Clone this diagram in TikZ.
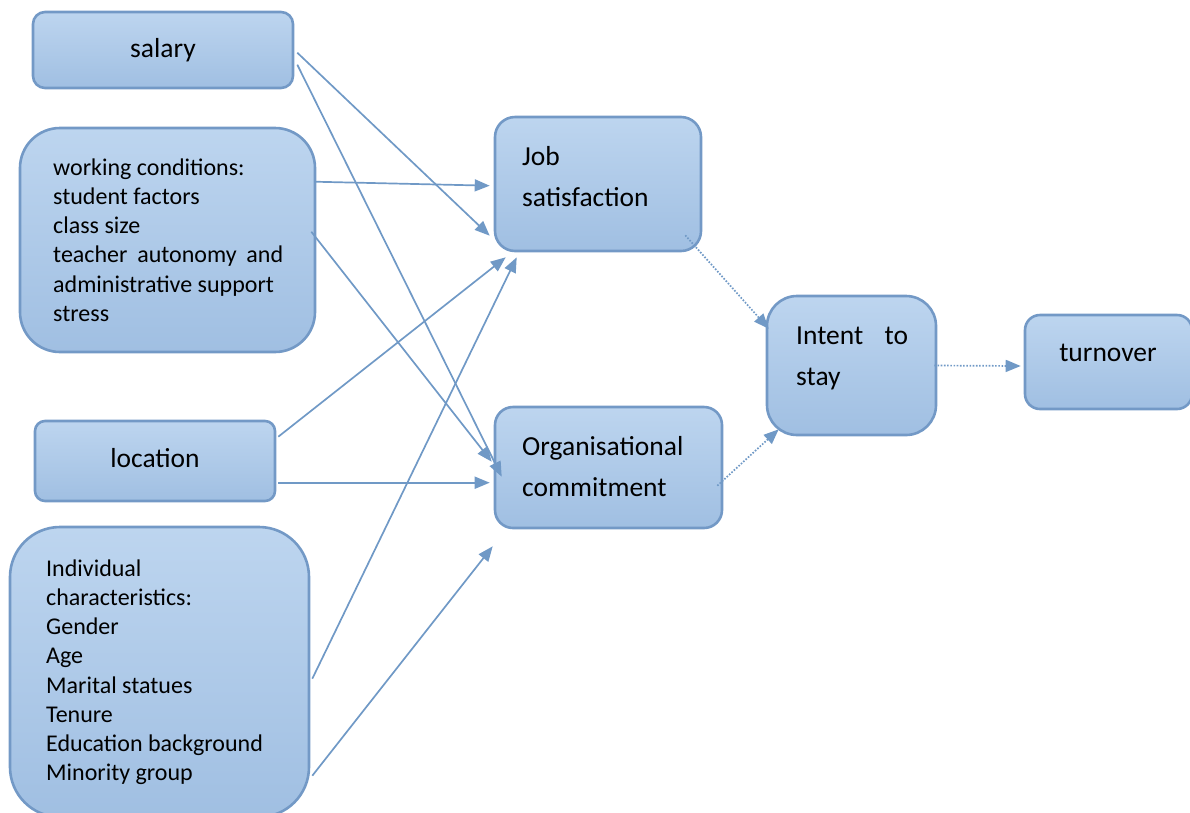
\documentclass[tikz,border=0pt]{standalone}
\usepackage{fontspec}
\setmainfont{Carlito}
\usetikzlibrary{arrows.meta,calc}
\definecolor{boxtop}{HTML}{BDD5EF}
\definecolor{boxbot}{HTML}{A0BFE2}
\definecolor{boxline}{HTML}{7399C6}
\definecolor{arrowc}{HTML}{7099C6}
\newcommand{\firstline}{\rule{0pt}{30pt}}
\begin{document}
\begin{tikzpicture}[x=1pt,y=-1pt,
  box/.style={draw=boxline, line width=2.6pt, top color=boxtop, bottom color=boxbot, inner sep=0pt},
  link/.style={draw=arrowc, line width=1.7pt, -{Triangle[length=15pt,width=12pt]}},
  dlink/.style={link, dash pattern=on 1.6pt off 1.6pt},
  big/.style={font=\fontsize{27.5}{41}\selectfont, inner sep=0pt},
  small/.style={font=\fontsize{24}{29.2}\selectfont, inner sep=0pt, align=left, anchor=north west}]
\useasboundingbox (0,0) rectangle (1190,812);
% boxes
\node[box, rounded corners=12pt, minimum width=260pt, minimum height=76pt] (salary) at (163,50) {};
\node[box, rounded corners=40pt, minimum width=295pt, minimum height=224pt] (work) at (167.5,240) {};
\node[box, rounded corners=10pt, minimum width=240pt, minimum height=80pt] (location) at (155,461) {};
\node[box, rounded corners=50pt, minimum width=299pt, minimum height=290pt] (indiv) at (159.5,672) {};
\node[box, rounded corners=20pt, minimum width=206pt, minimum height=134pt] (job) at (598,184) {};
\node[box, rounded corners=18pt, minimum width=227pt, minimum height=121pt] (org) at (608.5,467.5) {};
\node[box, rounded corners=30pt, minimum width=169pt, minimum height=139pt] (intent) at (851.5,365.5) {};
\node[box, rounded corners=15pt, minimum width=167pt, minimum height=94pt] (turnover) at (1108.5,362) {};
% texts
\node[big, anchor=base] (tsalary) at (163,57.5) {salary};
\node[big, anchor=base] (tlocation) at (155,467) {location};
\node[big, anchor=base] (tturnover) at (1108,361) {turnover};
\node[big, align=left, anchor=north west] (tjob) at (522,135) {\firstline Job\\satisfaction};
\node[big, align=left, anchor=north west] (torg) at (522,425) {\firstline Organisational\\commitment};
\node[big, align=left, anchor=north west] (tintent) at (796,314) {\firstline\makebox[112pt][s]{Intent\hfill to}\\stay};
\node[small] (twork) at (53,145) {\firstline working conditions:\\student factors\\class size\\\makebox[230pt][s]{teacher\hfill autonomy\hfill and}\\administrative support\\stress};
\node[small] (tindiv) at (46,546) {\firstline Individual\\characteristics:\\Gender\\Age\\Marital statues\\Tenure\\Education background\\Minority group};
% connectors
\draw[link] ($(salary.north east)+(3,42)$) -- ($(job.north west)+(-4,120)$);
\draw[link] ($(salary.north east)+(3,54)$) -- ($(org.north west)+(8,71)$);
\draw[link] ($(work.north east)+(-2,55)$) -- ($(job.north west)+(-4,70)$);
\draw[link] ($(work.north east)+(-5,105)$) -- ($(org.north west)+(-2,56)$);
\draw[link] ($(location.north east)+(2,17)$) -- ($(job.south west)+(12,5)$);
\draw[link] ($(location.north east)+(2,63)$) -- ($(org.north west)+(-4,77)$);
\draw[link] ($(indiv.north east)+(2,153)$) -- ($(job.south west)+(23,5)$);
\draw[link] ($(indiv.north east)+(2,250)$) -- ($(org.south west)+(-1,17)$);
\draw[dlink] ($(job.south east)+(-17,-17)$) -- ($(intent.north west)+(3,34)$);
\draw[dlink] ($(org.north east)+(-6,80)$) -- ($(intent.south west)+(13,-7)$);
\draw[dlink] ($(intent.east)+(-3,0)$) -- ($(turnover.west)+(-3,4)$);
\end{tikzpicture}
\end{document}
